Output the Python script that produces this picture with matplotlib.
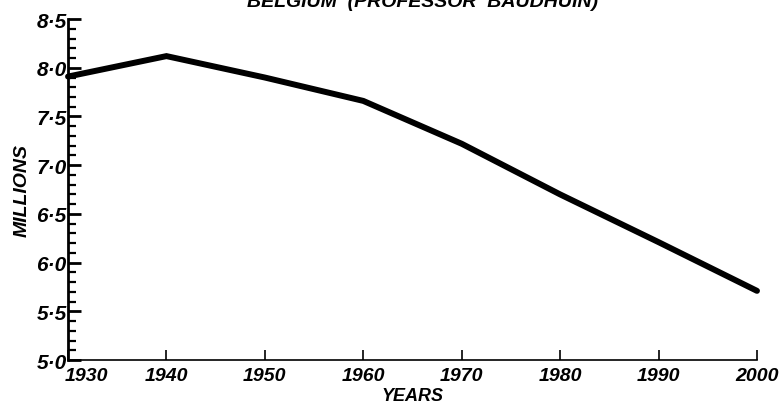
import numpy as np
import matplotlib.pyplot as plt
import matplotlib.transforms as mtransforms
from matplotlib.ticker import MultipleLocator, FuncFormatter

years = [1930, 1940, 1950, 1960, 1970, 1980, 1990, 2000]
population = [7.91, 8.12, 7.90, 7.66, 7.22, 6.70, 6.21, 5.71]

x_ticks = [1930, 1940, 1950, 1960, 1970, 1980, 1990, 2000]
y_ticks = [5.0, 5.5, 6.0, 6.5, 7.0, 7.5, 8.0, 8.5]

plt.rcParams['font.family'] = ['Liberation Sans', 'DejaVu Sans']

fig = plt.figure(figsize=(7.82, 4.10), dpi=100)
ax = fig.add_axes([0.087, 0.1195, 0.881, 0.8315])

ax.plot(years, population, color='black', lw=4.3, solid_capstyle='round',
        solid_joinstyle='miter', clip_on=False)

ax.set_xlim(1930, 2000)
ax.set_ylim(5.0, 8.5)
ax.set_xticks(x_ticks)
ax.set_yticks(y_ticks)
ax.yaxis.set_minor_locator(MultipleLocator(0.1))
ax.yaxis.set_major_formatter(FuncFormatter(lambda v, p: f"{v:.1f}".replace('.', '·')))

for s in ['top', 'right']:
    ax.spines[s].set_visible(False)
ax.spines['left'].set_linewidth(2.0)
ax.spines['bottom'].set_linewidth(1.2)

ax.tick_params(axis='y', which='major', direction='in', length=9, width=2,
               pad=1, labelsize=15)
ax.tick_params(axis='y', which='minor', direction='in', length=6, width=1.6)
ax.tick_params(axis='x', which='major', direction='in', length=7, width=1.2,
               pad=5, labelsize=14)
for lab in ax.get_xticklabels() + ax.get_yticklabels():
    lab.set_fontstyle('italic')
    lab.set_fontweight('bold')

# first year label sits just right of the corner, as in the original
first = ax.get_xticklabels()[0]
first.set_transform(first.get_transform() +
                    mtransforms.ScaledTranslation(18 / 100, 0, fig.dpi_scale_trans))

ax.set_ylabel('MILLIONS', fontsize=14, fontstyle='italic', fontweight='bold', labelpad=4)
ax.set_xlabel('YEARS', fontsize=13, fontstyle='italic', fontweight='bold', labelpad=2)

fig.text(0.54, 1.0 - 11 / 410, 'BELGIUM  (PROFESSOR  BAUDHUIN)', ha='center', va='bottom',
         fontsize=14, fontstyle='italic', fontweight='bold')

fig.savefig('out.png', dpi=100)
